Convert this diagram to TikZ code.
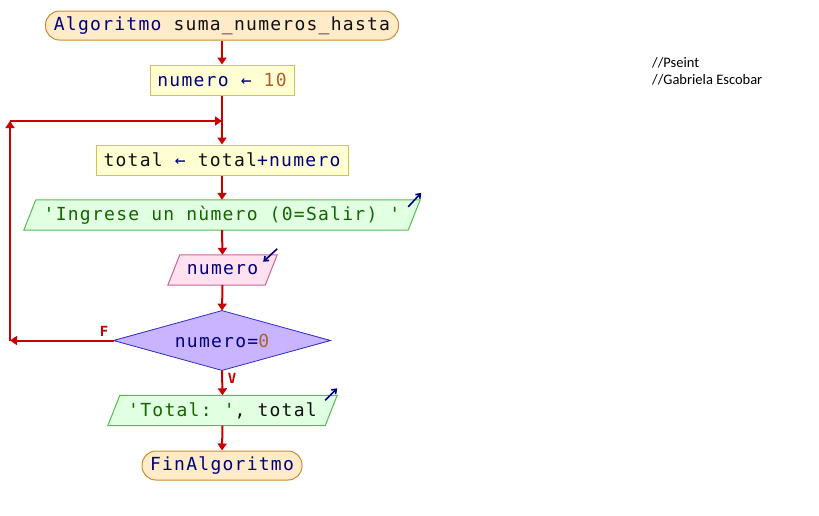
\documentclass[tikz,border=0pt]{standalone}
\usepackage{fontspec}
\setmonofont{DejaVu Sans Mono}[LetterSpace=7]
\newfontfamily\notefont{Carlito}
\usetikzlibrary{arrows.meta,shapes.geometric,calc}
\definecolor{kw}{RGB}{0,0,128}
\definecolor{idf}{RGB}{16,16,16}
\definecolor{numc}{RGB}{176,96,48}
\definecolor{strc}{RGB}{20,100,0}
\definecolor{flow}{RGB}{200,0,0}
\definecolor{startfill}{RGB}{255,235,200}
\definecolor{startdraw}{RGB}{200,140,50}
\definecolor{procfill}{RGB}{255,255,210}
\definecolor{procdraw}{RGB}{200,200,80}
\definecolor{outfill}{RGB}{225,255,225}
\definecolor{outdraw}{RGB}{80,190,80}
\definecolor{infill}{RGB}{255,225,240}
\definecolor{indraw}{RGB}{200,100,150}
\definecolor{decfill}{RGB}{200,180,255}
\definecolor{decdraw}{RGB}{50,50,200}
\begin{document}
\begin{tikzpicture}[x=1pt,y=-1pt,
  txt/.style={font=\ttfamily\fontsize{18}{20}\selectfont, inner sep=0pt},
  termbox/.style={txt, draw=startdraw, fill=startfill, line width=1pt, rounded corners=14pt, minimum height=29pt},
  procbox/.style={txt, draw=procdraw, fill=procfill, line width=1pt, minimum height=30pt},
  slantbox/.style={txt, minimum height=30pt},
  decbox/.style={txt, diamond, aspect=3.66, draw=decdraw, fill=decfill, line width=0.8pt, minimum width=216pt, minimum height=59pt},
  flowline/.style={draw=flow, line width=2pt},
  flowarrow/.style={flowline, -{Triangle[width=9pt,length=7pt]}},
  iconarrow/.style={draw=kw, line width=1.6pt, -{Straight Barb[width=6pt,length=4pt]}},
  lbl/.style={font=\ttfamily\bfseries\fontsize{14}{16}\selectfont, text=flow, inner sep=0pt},
  note/.style={font=\notefont\fontsize{14.5}{16}\selectfont, anchor=base west, inner sep=0pt}
]
\useasboundingbox (0,0) rectangle (819,515);

% nodes
\node[termbox, minimum width=353pt] (start) at (222,25.5)
  {\textcolor{kw}{Algoritmo} \textcolor{idf}{suma\_numeros\_hasta}};
\node[procbox, minimum width=144pt] (asig) at (222,80)
  {\textcolor{kw}{numero ←} \textcolor{numc}{10}};
\node[procbox, minimum width=252pt] (acum) at (222,160)
  {\textcolor{idf}{total} \textcolor{kw}{←} \textcolor{idf}{total}\textcolor{kw}{+numero}};
\node[slantbox, minimum width=396pt] (ing) at (222,215) {};
\node[slantbox, minimum width=109pt] (leer) at (222.5,270) {};
\node[decbox] (dec) at (222,340.5) {};
\node[slantbox, minimum width=229pt] (tot) at (222.5,410.5) {};
\node[termbox, minimum width=160pt] (fin) at (222,465.5)
  {\textcolor{kw}{FinAlgoritmo}};

% slanted shapes
\filldraw[draw=outdraw, fill=outfill, line width=1pt]
  ($(ing.north west)+(12,0)$) -- (ing.north east) -- ($(ing.south east)-(12,0)$) -- (ing.south west) -- cycle;
\filldraw[draw=indraw, fill=infill, line width=1pt]
  ($(leer.north west)+(12,0)$) -- (leer.north east) -- ($(leer.south east)-(12,0)$) -- (leer.south west) -- cycle;
\filldraw[draw=outdraw, fill=outfill, line width=1pt]
  ($(tot.north west)+(12,0)$) -- (tot.north east) -- ($(tot.south east)-(12,0)$) -- (tot.south west) -- cycle;
\filldraw[draw=decdraw, fill=decfill, line width=0.8pt]
  (dec.north) -- (dec.east) -- (dec.south) -- (dec.west) -- cycle;

% texts in slanted shapes
\node[txt] (ingt) at (ing.center) {\textcolor{strc}{'Ingrese un nùmero (0=Salir) '}};
\node[txt] (leert) at (leer.center) {\textcolor{kw}{numero}};
\node[txt] (dect) at (dec.center) {\textcolor{kw}{numero=}\textcolor{numc}{0}};
\node[txt] (tott) at (tot.center) {\textcolor{strc}{'Total: '}\textcolor{idf}{, total}};

% io icons
\coordinate (i1a) at ($(ing.north east)+(-12,7)$);
\coordinate (i1b) at ($(ing.north east)+(1,-7)$);
\draw[iconarrow] (i1a) -- (i1b);
\coordinate (i2a) at ($(leer.north east)+(0,-6)$);
\coordinate (i2b) at ($(leer.north east)+(-14,7)$);
\draw[iconarrow] (i2a) -- (i2b);
\coordinate (i3a) at ($(tot.north east)+(-12,5)$);
\coordinate (i3b) at ($(tot.north east)+(0,-7)$);
\draw[iconarrow] (i3a) -- (i3b);

% connectors
\draw[flowarrow] (start.south) -- (asig.north);
\draw[flowarrow] (asig.south) -- (acum.north);
\draw[flowarrow] (acum.south) -- (ing.north);
\draw[flowarrow] (ing.south) -- (leer.north);
\draw[flowarrow] (leer.south) -- (dec.north);
\draw[flowarrow] (dec.south) -- (tot.north);
\draw[flowarrow] (tot.south) -- (fin.north);

% loop back
\coordinate (lb) at (10,340.5);
\coordinate (lt) at (10,121);
\coordinate (lj) at (222,121);
\draw[flowarrow] (dec.west) -- (lb);
\draw[flowarrow] (lb) -- (lt);
\draw[flowarrow] (lt) -- (lj);

% labels
\node[lbl] (lf) at (104,331) {F};
\node[lbl] (lv) at (232,378) {V};

% notes
\node[note] (n1) at (652,67) {//Pseint};
\node[note] (n2) at (652,84) {//Gabriela Escobar};
\end{tikzpicture}
\end{document}
